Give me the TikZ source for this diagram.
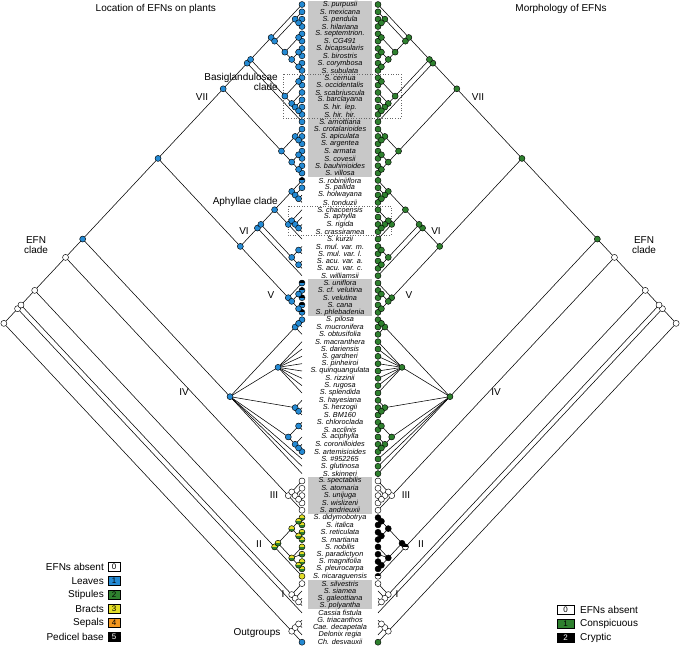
\documentclass[tikz,border=0pt]{standalone}
\usepackage{fontspec}
\setmainfont{Liberation Sans}
\definecolor{cB}{RGB}{36,138,212}
\definecolor{cG}{RGB}{46,128,46}
\definecolor{cY}{RGB}{228,222,40}
\definecolor{cO}{RGB}{242,150,30}
\definecolor{cGray}{RGB}{200,200,200}
\tikzset{
 edge/.style={line width=0.55pt},
 dot/.style={circle,draw=black,line width=0.45pt,inner sep=0pt,minimum size=6pt,fill=#1},
 pie/.style 2 args={dot=#2, path picture={\fill[#1] (path picture bounding box.north west) rectangle (path picture bounding box.east);}},
 tname/.style={font=\fontsize{7.3}{7.3}\selectfont\itshape, inner sep=0pt},
 lab/.style={font=\fontsize{10}{10}\selectfont, inner sep=0pt},
 legbox/.style={draw=black,line width=0.5pt,minimum height=9pt,inner sep=0pt,font=\fontsize{8}{8}\selectfont},
 clbox/.style={draw=black!60,dotted,line width=0.6pt},
}
\newcommand\ry[1]{(4.5+(#1-1)*7.33)}
\begin{document}
\begin{tikzpicture}[x=1pt,y=-1pt]
\useasboundingbox (0,0) rectangle (682,648);
% grey bands
\foreach \a/\b in {1/24,39/43,66/70,80/83}
  \fill[cGray] (308,{\ry{\a}-3.67}) rectangle (372,{\ry{\b}+3.67});
% clade boxes
\draw[clbox] (283,74) rectangle (401,118);
\draw[clbox] (288,206) rectangle (391,235);
% tip coordinates
\foreach \i in {1,...,88} {
  \coordinate (L\i) at (302,{\ry{\i}});
  \coordinate (R\i) at (378,{\ry{\i}});
}
% internal coordinates
\foreach \n/\a/\b in {1x88/1/88,1x84/1/84,1x83/1/83,1x79/1/79,1x70/1/70,1x65/1/65,1x43/1/43,1x24/1/24,1x17/1/17,1x16/1/16,1x10/1/10,2x10/2/10,2x4/2/4,3x4/3/4,5x10/5/10,5x6/5/6,7x10/7/10,7x8/7/8,9x10/9/10,11x16/11/16,11x12/11/12,13x16/13/16,14x16/14/16,15x16/15/16,18x24/18/24,18x20/18/20,19x20/19/20,21x24/21/24,21x22/21/22,23x24/23/24,25x43/25/43,25x38/25/38,25x37/25/37,25x33/25/33,25x28/25/28,26x28/26/28,27x28/27/28,29x33/29/33,29x32/29/32,30x32/30/32,31x32/31/32,34x37/34/37,34x35/34/35,36x37/36/37,39x43/39/43,40x43/40/43,40x41/40/41,42x43/42/43,44x65/44/65,44x46/44/46,44x45/44/45,47x54/47/54,55x57/55/57,56x57/56/57,58x62/58/62,58x59/58/59,60x62/60/62,61x62/61/62,66x70/66/70,66x69/66/69,67x69/67/69,68x69/68/69,71x79/71/79,71x78/71/78,71x74/71/74,71x72/71/72,73x74/73/74,75x78/75/78,77x78/77/78,80x83/80/83,81x83/81/83,82x83/82/83,85x88/85/88,85x87/85/87,85x86/85/86} {
  \pgfmathsetmacro\yy{4.5+((\a+\b)/2-1)*7.33}
  \pgfmathsetmacro\dd{3.427*(\b-\a)}
  \coordinate (L\n) at ({302-\dd},\yy);
  \coordinate (R\n) at ({378+\dd},\yy);
}
% edges
\foreach \p/\c in {1x88/1x84,1x88/85x88,1x84/1x83,1x84/84,1x83/1x79,1x83/80x83,1x79/1x70,1x79/71x79,1x70/1x65,1x70/66x70,1x65/1x43,1x65/44x65,1x43/1x24,1x43/25x43,1x24/1x17,1x24/18x24,1x17/1x16,1x17/17,1x16/1x10,1x16/11x16,1x10/1,1x10/2x10,2x10/2x4,2x10/5x10,2x4/2,2x4/3x4,3x4/3,3x4/4,5x10/5x6,5x10/7x10,5x6/5,5x6/6,7x10/7x8,7x10/9x10,7x8/7,7x8/8,9x10/9,9x10/10,11x16/11x12,11x16/13x16,11x12/11,11x12/12,13x16/13,13x16/14x16,14x16/14,14x16/15x16,15x16/15,15x16/16,18x24/18x20,18x24/21x24,18x20/18,18x20/19x20,19x20/19,19x20/20,21x24/21x22,21x24/23x24,21x22/21,21x22/22,23x24/23,23x24/24,25x43/25x38,25x43/39x43,25x38/25x37,25x38/38,25x37/25x33,25x37/34x37,25x33/25x28,25x33/29x33,25x28/25,25x28/26x28,26x28/26,26x28/27x28,27x28/27,27x28/28,29x33/29x32,29x33/33,29x32/29,29x32/30x32,30x32/30,30x32/31x32,31x32/31,31x32/32,34x37/34x35,34x37/36x37,34x35/34,34x35/35,36x37/36,36x37/37,39x43/39,39x43/40x43,40x43/40x41,40x43/42x43,40x41/40,40x41/41,42x43/42,42x43/43,44x65/44x46,44x65/47x54,44x65/55x57,44x65/58x62,44x65/63,44x65/64,44x65/65,44x46/44x45,44x46/46,44x45/44,44x45/45,47x54/47,47x54/48,47x54/49,47x54/50,47x54/51,47x54/52,47x54/53,47x54/54,55x57/55,55x57/56x57,56x57/56,56x57/57,58x62/58x59,58x62/60x62,58x59/58,58x59/59,60x62/60,60x62/61x62,61x62/61,61x62/62,66x70/66x69,66x70/70,66x69/66,66x69/67x69,67x69/67,67x69/68x69,68x69/68,68x69/69,71x79/71x78,71x79/79,71x78/71x74,71x78/75x78,71x74/71x72,71x74/73x74,71x72/71,71x72/72,73x74/73,73x74/74,75x78/75,75x78/76,75x78/77x78,77x78/77,77x78/78,80x83/80,80x83/81x83,81x83/81,81x83/82x83,82x83/82,82x83/83,85x88/85x87,85x88/88,85x87/85x86,85x87/87,85x86/85,85x86/86} {
  \draw[edge] (L\p) -- (L\c);
  \draw[edge] (R\p) -- (R\c);
}
% tip dots
\foreach \i in {1,...,24,26,...,38,44,...,65,88} \node[dot=cB] (dL\i) at (L\i) {};
\foreach \i in {25,39,40,41,42,43} \node[pie={black}{cB}] (dL\i) at (L\i) {};
\foreach \i in {66,...,70,80,...,87} \node[dot=white] (dL\i) at (L\i) {};
\foreach \i in {71,...,78} \node[pie={cY}{cG}] (dL\i) at (L\i) {};
\node[dot=cY] (dL79) at (L79) {};
\foreach \i in {1,...,65,88} \node[dot=cG] (dR\i) at (R\i) {};
\foreach \i in {66,...,70,80,...,87} \node[dot=white] (dR\i) at (R\i) {};
\foreach \i in {71,...,78} \node[dot=black] (dR\i) at (R\i) {};
\node[pie={black}{white}] (dR79) at (R79) {};
% internal dots
\foreach \n in {1x65,1x43,1x24,1x17,1x16,1x10,2x10,2x4,3x4,5x10,5x6,7x10,7x8,9x10,11x16,11x12,13x16,14x16,15x16,18x24,18x20,19x20,21x24,21x22,23x24,25x43,25x38,25x37,25x33,25x28,26x28,27x28,29x33,29x32,30x32,31x32,34x37,34x35,36x37,39x43,40x43,40x41,42x43,44x65,44x46,44x45,47x54,55x57,56x57,58x62,58x59,60x62,61x62} {
  \node[dot=cB] (dL\n) at (L\n) {};
  \node[dot=cG] (dR\n) at (R\n) {};
}
\foreach \n in {1x88,1x84,1x83,1x79,1x70,66x70,66x69,67x69,68x69,80x83,81x83,82x83,85x88,85x87,85x86} {
  \node[dot=white] (dL\n) at (L\n) {};
  \node[dot=white] (dR\n) at (R\n) {};
}
\foreach \n in {71x79,71x78,71x74,71x72,73x74,75x78,77x78} {
  \node[pie={cY}{cG}] (dL\n) at (L\n) {};
  \node[dot=black] (dR\n) at (R\n) {};
}
\node[pie={black}{white}] at (R71x79) {};
% taxon names
\foreach \i/\t in {1/S. purpusii,2/S. mexicana,3/S. pendula,4/S. hilariana,5/S. septemtrion.,6/S. CG491,7/S. bicapsularis,8/S. birostris,9/S. corymbosa,10/S. subulata,11/S. cernua,12/S. occidentalis,13/S. scabriuscula,14/S. barclayana,15/S. hir. lep.,16/S. hir. hir.,17/S. arnottiana,18/S. crotalarioides,19/S. apiculata,20/S. argentea,21/S. armata,22/S. covesii,23/S. bauhinioides,24/S. villosa,25/S. robiniiflora,26/S. pallida,27/S. holwayana,28/S. tonduzii,29/S. chacoensis,30/S. aphylla,31/S. rigida,32/S. crassiramea,33/S. kurzii,34/S. mul. var. m.,35/S. mul. var. l.,36/S. acu. var. a.,37/S. acu. var. c.,38/S. williamsii,39/S. uniflora,40/S. cf. velutina,41/S. velutina,42/S. cana,43/S. phlebadenia,44/S. pilosa,45/S. mucronifera,46/S. obtusifolia,47/S. macranthera,48/S. dariensis,49/S. gardneri,50/S. pinheiroi,51/S. quinquangulata,52/S. rizzinii,53/S. rugosa,54/S. splendida,55/S. hayesiana,56/S. herzogii,57/S. BM160,58/S. chloroclada,59/S. acclinis,60/S. aciphylla,61/S. coronilloides,62/S. artemisioides,63/S. \#952265,64/S. glutinosa,65/S. skinneri,66/S. spectabilis,67/S. atomaria,68/S. unijuga,69/S. wislizeni,70/S. andrieuxii,71/S. didymobotrya,72/S. italica,73/S. reticulata,74/S. martiana,75/S. nobilis,76/S. paradictyon,77/S. magnifolia,78/S. pleurocarpa,79/S. nicaraguensis,80/S. silvestris,81/S. siamea,82/S. galeottiana,83/S. polyantha,84/Cassia fistula,85/G. triacanthos,86/Cae. decapetala,87/Delonix regia,88/Ch. desvauxii}
  \node[tname] (t\i) at (340,{\ry{\i}}) {\t};
% titles
\node[lab,anchor=east] (titL) at (216,9) {Location of EFNs on plants};
\node[lab] (titR) at (561,9) {Morphology of EFNs};
% clade labels left
\node[lab] (lVII) at (202,97) {VII};
\node[lab,align=right,anchor=east] (lBas) at (278,82) {Basiglandulosae\\clade};
\node[lab,anchor=east] (lAph) at (278,202) {Aphyllae clade};
\node[lab] (lVI) at (244,231) {VI};
\node[lab] (lV) at (271,295) {V};
\node[lab] (lIV) at (184,392) {IV};
\node[lab] (lIII) at (274,495) {III};
\node[lab] (lII) at (259,544) {II};
\node[lab] (lI) at (283,594) {I};
\node[lab] (lOut) at (257,633) {Outgroups};
\node[lab,align=center] (lEFN) at (36,245) {EFN\\clade};
% clade labels right
\node[lab] (rVII) at (478,97) {VII};
\node[lab] (rVI) at (436,231) {VI};
\node[lab] (rV) at (409,295) {V};
\node[lab] (rIV) at (496,392) {IV};
\node[lab] (rIII) at (406,495) {III};
\node[lab] (rII) at (421,544) {II};
\node[lab] (rI) at (397,594) {I};
\node[lab,align=center] (rEFN) at (644,245) {EFN\\clade};
% legend left
\foreach \k/\c/\tc/\t in {0/white/black/EFNs absent,1/cB/black/Leaves,2/cG/black/Stipules,3/cY/black/Bracts,4/cO/black/Sepals,5/black/white/Pedicel base} {
  \node[legbox,fill=\c,text=\tc,minimum width=12pt] (kL\k) at (114,{567+\k*14}) {\k};
  \node[lab,anchor=east] (kLt\k) at (104,{567+\k*14}) {\t};
}
% legend right
\foreach \k/\c/\tc/\t in {0/white/black/EFNs absent,1/cG/black/Conspicuous,2/black/white/Cryptic} {
  \node[legbox,fill=\c,text=\tc,minimum width=17pt] (kR\k) at (565.5,{610+\k*14}) {\k};
  \node[lab,anchor=west] (kRt\k) at (580,{610+\k*14}) {\t};
}
\end{tikzpicture}
\end{document}
